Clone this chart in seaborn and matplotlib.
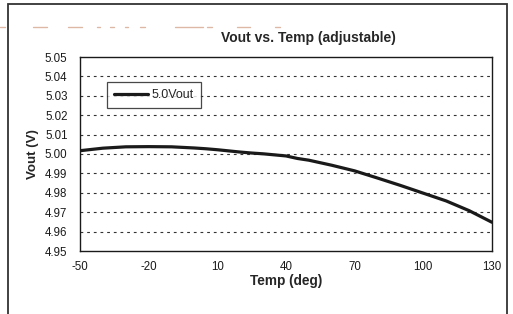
import matplotlib
matplotlib.use("Agg")
import matplotlib.pyplot as plt
import seaborn as sns
import pandas as pd
import numpy as np
from matplotlib.patches import Rectangle
from matplotlib.lines import Line2D

temps = [-50, -40, -30, -20, -10, 0, 5, 10, 20, 25, 30, 40, 45, 50, 60, 70, 80, 90, 100, 110, 120, 130]
vout = [5.0017, 5.0030, 5.0037, 5.0038, 5.0037, 5.0031, 5.0027, 5.0022, 5.0010, 5.0005, 5.0001, 4.9990, 4.9977, 4.9968, 4.9942, 4.9913, 4.9876, 4.9838, 4.9798, 4.9758, 4.9708, 4.9648]
series_name = "5.0Vout"
x_ticks = [-50, -20, 10, 40, 70, 100, 130]
y_ticks = [4.95, 4.96, 4.97, 4.98, 4.99, 5.00, 5.01, 5.02, 5.03, 5.04, 5.05]

sns.set_style("white")
plt.rcParams['font.family'] = ['Liberation Sans', 'DejaVu Sans']

df = pd.DataFrame({"Temp": temps, "Vout": vout, "series": series_name})

W, H = 513, 314
fig = plt.figure(figsize=(W/100, H/100), dpi=100)
ax = fig.add_axes([80/W, 1-251/H, (492-80)/W, (251-57)/H])

sns.lineplot(data=df, x="Temp", y="Vout", hue="series", palette=["#1a1a1a"], linewidth=2.3, ax=ax)

ax.set_xlim(-50, 130)
ax.set_ylim(4.95, 5.05)
ax.set_xticks(x_ticks)
ax.set_xticklabels([str(t) for t in x_ticks])
ax.set_yticks(y_ticks)
ax.set_yticklabels([f"{v:.2f}" for v in y_ticks])
ax.set_xticks(np.arange(-35, 130, 30), minor=True)
ax.set_yticks(np.arange(4.955, 5.05, 0.01), minor=True)
ax.tick_params(axis="both", which="major", direction="inout", length=6, width=0.9, labelsize=8.3, colors="#1a1a1a")
ax.tick_params(axis="both", which="minor", direction="in", length=3, width=0.8, colors="#1a1a1a")
ax.tick_params(axis="x", pad=4.5)
ax.tick_params(axis="y", pad=6)

for v in y_ticks[1:-1]:
    ax.axhline(v, color="#333333", linestyle=(0, (2.5, 3.5)), linewidth=0.8, zorder=0)

for s in ax.spines.values():
    s.set_color("#1a1a1a")
    s.set_linewidth(1.0)

ax.set_xlabel("Temp (deg)", fontsize=9.8, fontweight="bold", labelpad=0.5)
ax.set_ylabel("Vout (V)", fontsize=9.6, fontweight="bold", labelpad=4)
fig.text(308/W, 1-38/H, "Vout vs. Temp (adjustable)", fontsize=10, fontweight="bold", ha="center", va="center")

leg = ax.legend(loc="upper left", bbox_to_anchor=((107-80)/412, 1-(82-57)/194), frameon=True, fontsize=9,
                fancybox=False, handlelength=2.7, borderpad=0.55, handletextpad=0.3, borderaxespad=0)
leg.get_frame().set_edgecolor("#1a1a1a")
leg.get_frame().set_linewidth(0.9)
leg.set_title(None)

fig.patches.append(Rectangle((8/W, -0.05), (507-8)/W, 1.05 - 4/H, transform=fig.transFigure,
                             fill=False, edgecolor="#333333", linewidth=1.3))

# faint scan artifact line near top
for x0, x1 in [(0, 5), (33, 47), (68, 82), (97, 100), (110, 114), (125, 128), (140, 145), (175, 203), (207, 212), (237, 250), (275, 280)]:
    fig.lines.append(Line2D([x0/W, x1/W], [1-27/H, 1-27/H], transform=fig.transFigure, color="#ddb8a4", linewidth=1.0))

fig.savefig("out.png", dpi=100)
